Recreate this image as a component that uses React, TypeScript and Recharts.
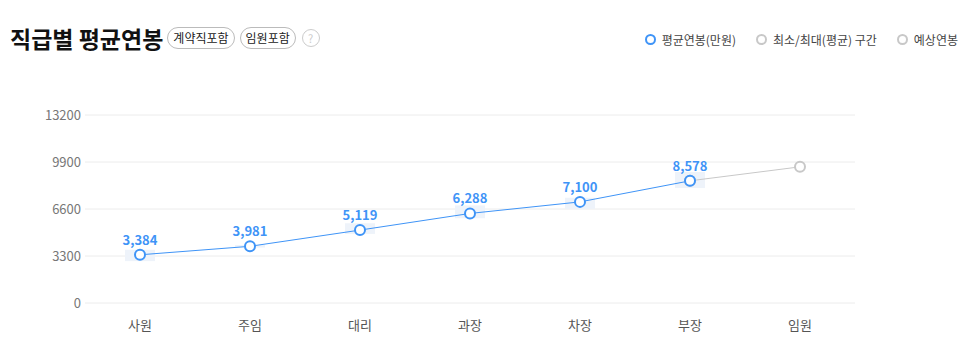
import { Bar, CartesianGrid, ComposedChart, LabelList, Line, XAxis, YAxis } from "recharts";

const categories = ["사원", "주임", "대리", "과장", "차장", "부장", "임원"];
const avgPay = [3384, 3981, 5119, 6288, 7100, 8578, null];
const forecastPay = [null, null, null, null, null, 8578, 9560];
const minPay = [2940, 3890, 4850, 5950, 6610, 8070, null];
const maxPay = [3740, 4070, 5600, 6850, 7390, 9200, null];
const yTicks = [0, 3300, 6600, 9900, 13200];

const data = categories.map((name, i) => ({
  name,
  avg: avgPay[i],
  forecast: forecastPay[i],
  range: minPay[i] != null && maxPay[i] != null ? [minPay[i], maxPay[i]] : null,
}));

const BLUE = "#3f94f7";
const GREY = "#c8c8c8";
const FONT = "'Noto Sans CJK KR', 'Noto Sans', sans-serif";

function Pill({ children }: { children: React.ReactNode }) {
  return (
    <span
      style={{
        display: "inline-block",
        border: "1px solid #bbb",
        borderRadius: 11,
        padding: "0 5px",
        height: 20,
        lineHeight: "20px",
        fontSize: 12,
        color: "#222",
        marginLeft: 5,
      }}
    >
      {children}
    </span>
  );
}

function LegendItem({ color, label }: { color: string; label: string }) {
  return (
    <span style={{ display: "inline-flex", alignItems: "center", marginLeft: 20 }}>
      <span
        style={{
          width: 7,
          height: 7,
          borderRadius: "50%",
          border: `2px solid ${color}`,
          marginRight: 6,
        }}
      />
      <span style={{ fontSize: 12, color: "#444" }}>{label}</span>
    </span>
  );
}

export default function App() {
  return (
    <div style={{ position: "relative", width: 966, height: 359, fontFamily: FONT, background: "#fff" }}>
      <style>{`body{margin:0}`}</style>
      <div style={{ position: "absolute", left: 10, top: 21, display: "flex", alignItems: "center" }}>
        <span style={{ fontSize: 23, fontWeight: 700, color: "#111", marginRight: -1 }}>직급별 평균연봉</span>
        <Pill>계약직포함</Pill>
        <Pill>임원포함</Pill>
        <span
          style={{
            display: "inline-block",
            width: 16,
            height: 16,
            borderRadius: "50%",
            border: "1px solid #ccc",
            color: "#ccc",
            fontSize: 11,
            lineHeight: "16px",
            textAlign: "center",
            marginLeft: 6,
          }}
        >
          ?
        </span>
      </div>
      <div style={{ position: "absolute", right: 8, top: 31, display: "flex" }}>
        <LegendItem color={BLUE} label="평균연봉(만원)" />
        <LegendItem color={GREY} label="최소/최대(평균) 구간" />
        <LegendItem color={GREY} label="예상연봉" />
      </div>
      <div style={{ position: "absolute", left: 0, top: 0 }}>
        <ComposedChart
          width={966}
          height={359}
          data={data}
          margin={{ top: 115, right: 111, bottom: 26, left: 0 }}
        >
          <CartesianGrid vertical={false} stroke="#ececec" />
          <XAxis
            dataKey="name"
            axisLine={false}
            tickLine={false}
            tickMargin={12}
            tick={{ fontSize: 13, fill: "#555", fontFamily: FONT }}
          />
          <YAxis
            width={85}
            domain={[0, 13200]}
            ticks={yTicks}
            axisLine={false}
            tickLine={false}
            tickMargin={-2}
            tick={{ fontSize: 13, fill: "#777", fontFamily: FONT }}
          />
          <Bar dataKey="range" barSize={30} fill="#eef3fa" isAnimationActive={false} />
          <Line
            dataKey="forecast"
            stroke={GREY}
            strokeWidth={1}
            dot={{ r: 5, fill: "#fff", stroke: GREY, strokeWidth: 2 }}
            isAnimationActive={false}
          />
          <Line
            dataKey="avg"
            stroke={BLUE}
            strokeWidth={1}
            dot={{ r: 5, fill: "#fff", stroke: BLUE, strokeWidth: 2 }}
            isAnimationActive={false}
          >
            <LabelList
              dataKey="avg"
              position="top"
              offset={10}
              fill={BLUE}
              fontSize={13}
              fontWeight={700}
              fontFamily={FONT}
              formatter={(v: any) => (v == null ? "" : Number(v).toLocaleString("en-US"))}
            />
          </Line>
        </ComposedChart>
      </div>
    </div>
  );
}
